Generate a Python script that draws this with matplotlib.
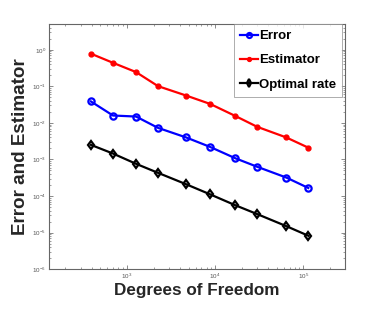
import matplotlib
matplotlib.use('Agg')
import matplotlib.pyplot as plt
from matplotlib.ticker import LogLocator, NullFormatter

plt.rcParams['font.family'] = ['Liberation Sans', 'DejaVu Sans']

# data
dofs = [390, 693, 1266, 2250, 4680, 8770, 16900, 30000, 64100, 114000]
error = [0.0385, 0.0159, 0.0149, 0.0073, 0.0040, 0.0022, 0.00108, 0.00063, 0.00032, 0.000166]
estimator = [0.78, 0.44, 0.245, 0.101, 0.056, 0.033, 0.0155, 0.0078, 0.0040, 0.0021]
optimal = [0.0025, 0.00145, 0.00076, 0.00043, 0.00021, 0.000111, 5.6e-5, 3.2e-5, 1.5e-5, 8.2e-6]

fig = plt.figure(figsize=(3.82, 3.27), dpi=100)
ax = fig.add_axes([0.128, 0.177, 0.776, 0.749])

ax.loglog(dofs, error, '-o', color='blue', lw=1.6, ms=4.5, mew=1.6,
          markerfacecolor='none', label='Error')
ax.loglog(dofs, estimator, '-o', color='red', lw=1.6, ms=3.5, label='Estimator')
ax.loglog(dofs, optimal, '-d', color='black', lw=1.6, ms=4.5, mew=1.6,
          markerfacecolor='none', label='Optimal rate')

ax.set_xlim(130, 3e5)
ax.set_ylim(1e-6, 5)

ax.xaxis.set_major_locator(LogLocator(base=10, numticks=10))
ax.yaxis.set_major_locator(LogLocator(base=10, numticks=10))
ax.xaxis.set_minor_locator(LogLocator(base=10, subs=range(2, 10), numticks=20))
ax.yaxis.set_minor_locator(LogLocator(base=10, subs=range(2, 10), numticks=20))
ax.xaxis.set_minor_formatter(NullFormatter())
ax.yaxis.set_minor_formatter(NullFormatter())

ax.tick_params(which='both', direction='in', top=True, right=True,
               colors='#777777', labelsize=4.5, labelcolor='#555555', pad=2)
ax.tick_params(which='major', length=3, width=0.6)
ax.tick_params(which='minor', length=1.5, width=0.5)
for s in ax.spines.values():
    s.set_color('#666666')
    s.set_linewidth(0.8)

ax.set_xlabel('Degrees of Freedom', fontsize=12.3, fontweight='bold',
              color='#262626', labelpad=1)
ax.set_ylabel('Error and Estimator', fontsize=13.6, fontweight='bold',
              color='#262626')
ax.yaxis.set_label_coords(-0.066, 0.5)

leg = ax.legend(loc='upper right', bbox_to_anchor=(0.99, 1.0),
                prop={'weight': 'bold', 'size': 9.5},
                fancybox=False, edgecolor='#888888', borderaxespad=0,
                handlelength=1.35, handletextpad=0.1, labelspacing=0.9,
                borderpad=0.45, markerscale=0.8)
leg.get_frame().set_linewidth(0.6)

fig.savefig('out.png', dpi=100)
